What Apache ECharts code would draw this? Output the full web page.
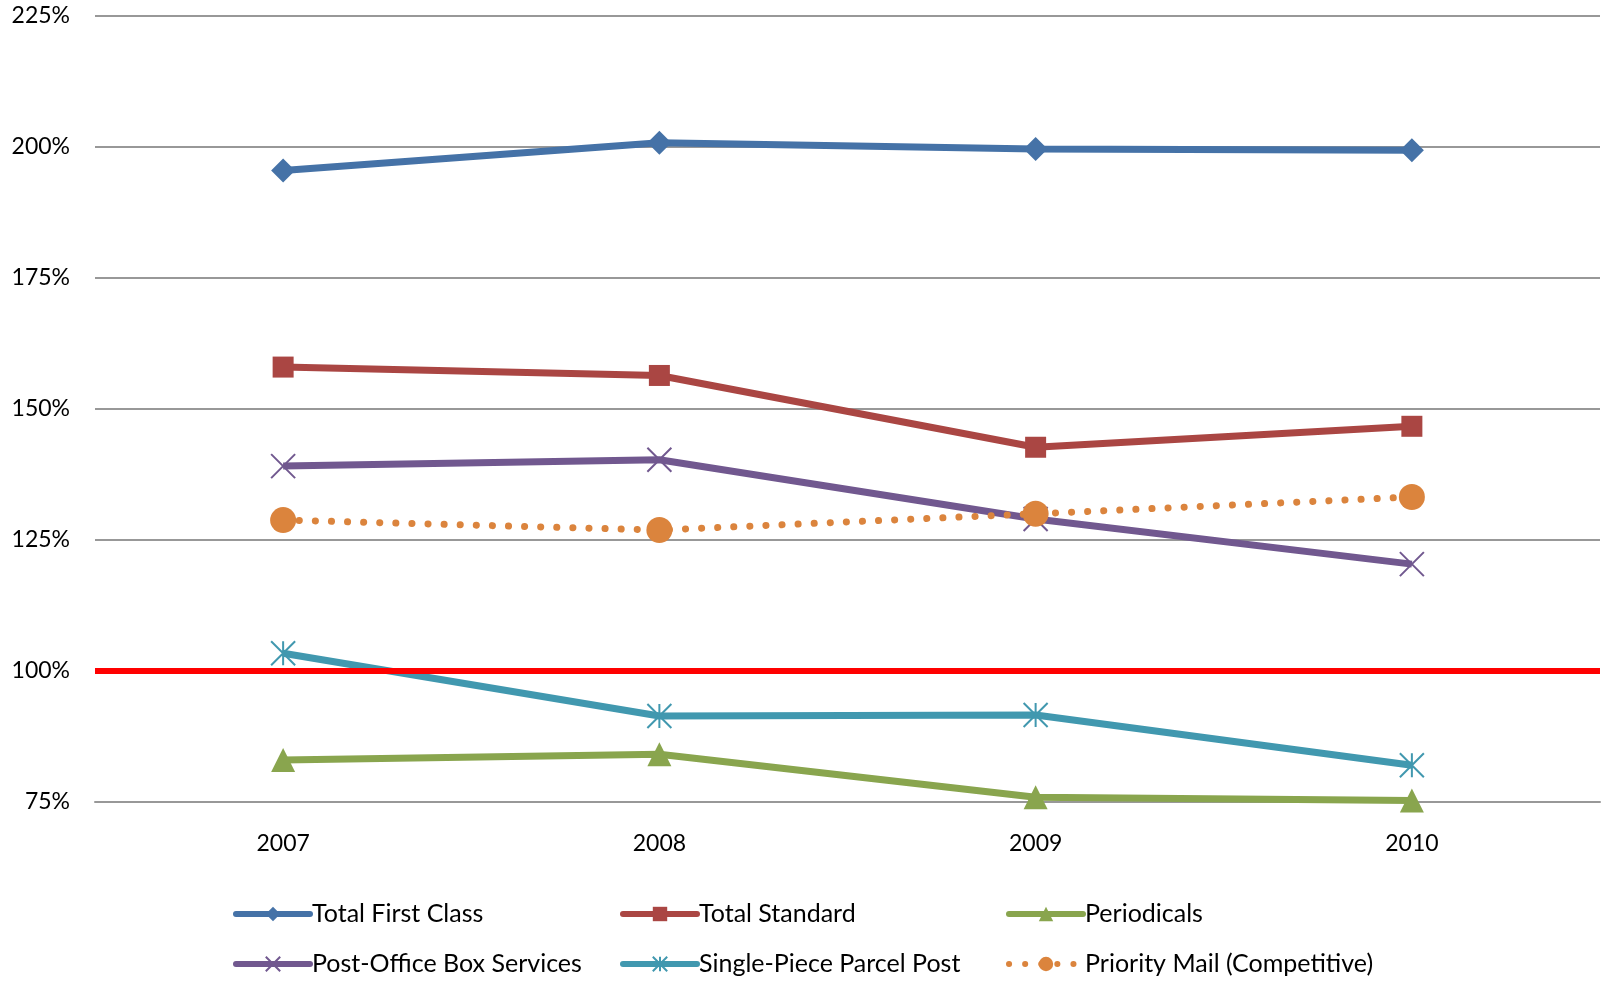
<!DOCTYPE html>
<html>
<head>
<meta charset="utf-8">
<script src="https://cdn.jsdelivr.net/npm/echarts@6/dist/echarts.min.js"></script>
<style>
  html, body { margin: 0; padding: 0; background: #fff; }
  #main { width: 1604px; height: 982px; }
</style>
</head>
<body>
<div id="main"></div>
<script>
var years = ['2007', '2008', '2009', '2010'];
var firstClass = [195.5, 200.8, 199.6, 199.4];
var standard = [158.0, 156.4, 142.7, 146.7];
var periodicals = [83.0, 84.1, 75.9, 75.3];
var poBox = [139.1, 140.3, 129.0, 120.4];
var parcelPost = [103.4, 91.4, 91.6, 82.0];
var priorityMail = [128.8, 126.9, 130.0, 133.2];
var yTicks = [75, 100, 125, 150, 175, 200, 225];

var chart = echarts.init(document.getElementById('main'));
var font = 'Lato, "Open Sans", sans-serif';

var crossPath = 'path://M0,0L20,20M20,0L0,20';
var starPath = 'path://M0,0L20,20M20,0L0,20M10,0L10,20';

function lineSeries(name, data, color, symbol, size, extra) {
  var s = {
    name: name,
    type: 'line',
    data: data,
    symbol: symbol,
    symbolSize: size,
    lineStyle: { color: color, width: 7 },
    itemStyle: { color: color },
    z: 3
  };
  if (extra) Object.assign(s, extra);
  return s;
}

function legendCol(left, names) {
  return {
    left: left, top: 900, orient: 'vertical', padding: 0,
    itemGap: 22, itemWidth: 74, itemHeight: 18,
    lineStyle: { width: 6, cap: 'round' },
    textStyle: { fontFamily: font, fontSize: 25, lineHeight: 28, color: '#000', padding: [0, 0, 0, -3] },
    data: names
  };
}

var option = {
  animation: false,
  backgroundColor: '#fff',
  grid: { left: 95, right: 4, top: 16, bottom: 180 },
  xAxis: {
    type: 'category',
    data: years,
    boundaryGap: true,
    axisLine: { show: true, lineStyle: { color: '#989898', width: 2 } },
    axisTick: { show: false },
    axisLabel: { color: '#000', fontFamily: font, fontSize: 23, margin: 30 }
  },
  yAxis: {
    type: 'value',
    min: yTicks[0],
    max: yTicks[yTicks.length - 1],
    interval: 25,
    axisLine: { show: false },
    axisTick: { show: false },
    axisLabel: {
      color: '#000', fontFamily: font, fontSize: 23, margin: 25,
      formatter: function (v) { return v + '%'; }
    },
    splitLine: { lineStyle: { color: '#989898', width: 2 } }
  },
  legend: [
    legendCol(233, ['Total First Class', 'Post-Office Box Services']),
    legendCol(620, ['Total Standard', 'Single-Piece Parcel Post']),
    legendCol(1006, ['Periodicals', 'Priority Mail (Competitive)'])
  ],
  series: [
    lineSeries('Total First Class', firstClass, '#4572A7', 'diamond', 24),
    lineSeries('Total Standard', standard, '#AA4643', 'rect', 21),
    lineSeries('Periodicals', periodicals, '#89A54E', 'triangle', 24),
    lineSeries('Post-Office Box Services', poBox, '#71588F', crossPath, 24, {
      itemStyle: { color: '#71588F', borderColor: '#71588F', borderWidth: 2 }
    }),
    lineSeries('Single-Piece Parcel Post', parcelPost, '#4198AF', starPath, 24, {
      itemStyle: { color: '#4198AF', borderColor: '#4198AF', borderWidth: 2 },
      markLine: {
        silent: true,
        symbol: 'none',
        label: { show: false },
        lineStyle: { color: '#FF0000', width: 6, type: 'solid' },
        data: [{ yAxis: 100 }]
      }
    }),
    lineSeries('Priority Mail (Competitive)', priorityMail, '#DB843D', 'circle', 26, {
      lineStyle: { color: '#DB843D', width: 7, type: [0.1, 16], cap: 'round' },
      z: 4
    })
  ]
};

chart.setOption(option);
</script>
</body>
</html>
